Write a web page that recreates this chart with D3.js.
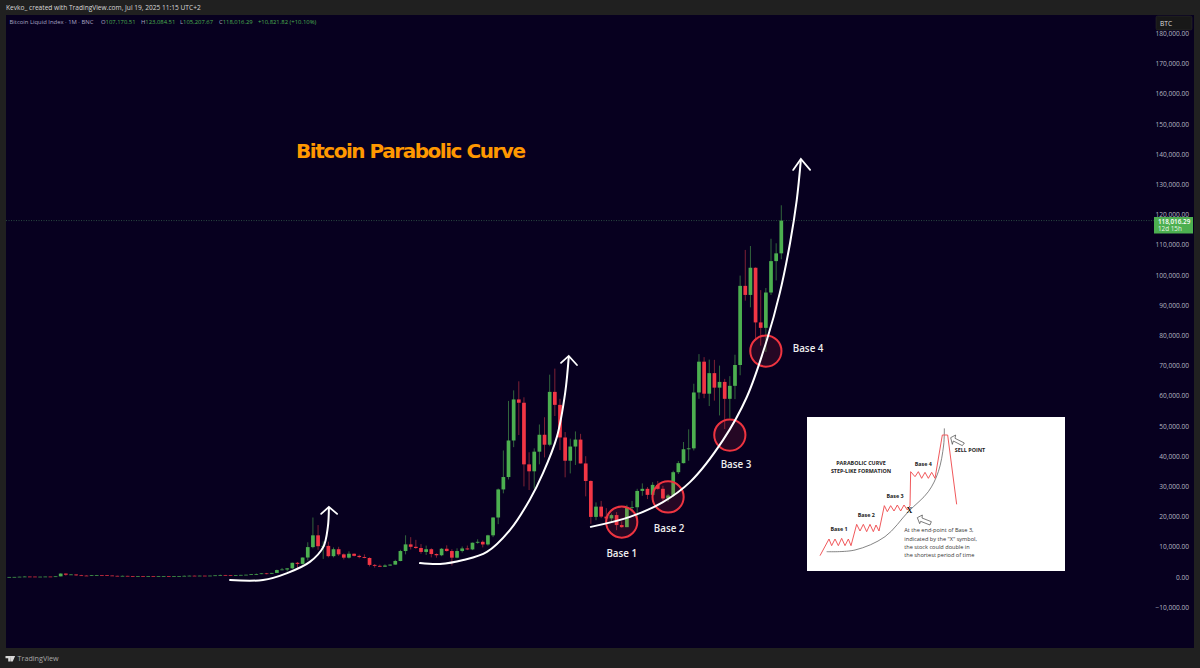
<!DOCTYPE html>
<html><head><meta charset="utf-8">
<script src="https://cdn.jsdelivr.net/npm/d3@7"></script>
<style>html,body{margin:0;padding:0;background:#202020;overflow:hidden}svg{display:block}</style>
</head><body><svg id="c" width="1200" height="668"></svg>
<script>
// Monthly candles, first = Jan 2013
const opens=[13,20,33,93,139,129,97,106,141,133,211,1129,
757,830,550,460,450,630,640,590,480,390,340,380,
320,220,250,240,240,230,260,280,230,240,320,380,
430,370,440,420,450,530,670,620,570,610,700,750,
960,970,1190,1080,1350,2300,2480,2860,4700,4340,6450,9900,
13800,10200,10300,6900,9200,7500,6400,7700,7000,6600,6300,4000,
3700,3400,3800,4100,5300,8600,10800,10000,9600,8300,9200,7600,
7200,9350,8600,6400,8600,9450,9130,11350,11650,10780,13800,19700,
29000,33100,45200,58800,57700,37300,35000,41500,47100,43800,61300,57000,
46200,38500,43200,45500,37600,31800,19900,23300,20000,19400,20500,17200,
16500,23100,23100,28500,29200,27200,30500,29200,26000,27000,34700,37700,
42300,42600,61100,71300,60700,67500,62700,64600,59000,63300,70200,96400,
93400,102400,84300,82500,94200,104600,107170.51];
const highs=[21,34,95,266,140,130,110,145,142,215,1242,1170,
1000,850,720,530,640,680,660,600,500,420,460,390,
320,260,300,260,250,270,310,280,250,250,500,470,
460,450,440,470,550,780,680,630,610,710,760,980,
1150,1210,1350,1350,2450,3000,3000,4750,4980,6470,11500,19700,
17200,11800,11700,9800,10000,7800,8500,7800,7400,7500,6500,4300,
4100,4200,4200,5700,9000,13800,13200,12300,10900,10400,9500,7800,
9600,10500,9200,9500,10100,10400,11400,12500,12100,14000,19800,29300,
41900,58300,61800,64800,59500,41300,42600,50500,52900,67000,69000,59000,
48000,45800,48200,47400,40000,32000,24700,25200,22800,21000,21500,18400,
23900,25200,29200,31000,29800,31400,31800,30200,27500,35200,38400,44700,
48900,64000,73800,72800,72000,71900,70000,65600,66500,73600,99800,108300,
109600,102500,95000,95700,112000,110500,123084.51];
const lows=[13,19,33,50,80,65,65,100,120,100,205,410,
700,400,440,340,420,540,560,450,360,275,320,300,
170,210,240,210,230,220,255,210,225,235,310,350,
350,360,400,415,440,500,600,520,560,600,690,740,
750,950,900,1060,1320,2200,1800,2700,2950,4100,5500,9500,
9000,6000,6500,6500,7000,5800,6100,6800,6200,6200,3500,3100,
3350,3350,3700,4050,5200,7500,9100,9300,7700,7300,6500,6400,
6900,8400,3800,6200,8100,8900,8900,11000,9800,10400,13200,17500,
27700,32300,43000,47000,30000,28800,29300,37300,39600,43300,53300,42000,
33000,34300,37100,37600,26700,17600,18800,19500,18100,18100,15500,16300,
16500,21400,19500,26900,25800,24800,28900,25200,24900,26500,34100,37600,
38500,41900,59000,59200,56600,58400,53500,49000,52500,58900,66800,91500,
89300,78200,76600,74500,93400,98200,105207.67];
const closes=[20,33,93,139,129,97,106,141,133,211,1129,757,
830,550,460,450,630,640,590,480,390,340,380,320,
220,250,240,240,230,260,280,230,240,320,380,430,
370,440,420,450,530,670,620,570,610,700,750,960,
970,1190,1080,1350,2300,2480,2860,4700,4340,6450,9900,13800,
10200,10300,6900,9200,7500,6400,7700,7000,6600,6300,4000,3700,
3400,3800,4100,5300,8600,10800,10000,9600,8300,9200,7600,7200,
9350,8600,6400,8600,9450,9130,11350,11650,10780,13800,19700,29000,
33100,45200,58800,57700,37300,35000,41500,47100,43800,61300,57000,46200,
38500,43200,45500,37600,31800,19900,23300,20000,19400,20500,17200,16500,
23100,23100,28500,29200,27200,30500,29200,26000,27000,34700,37700,42300,
42600,61100,71300,60700,67500,62700,64600,59000,63300,70200,96400,93400,
102400,84300,82500,94200,104600,107170,118016.29];

const priceTicks=[-10000,0,10000,20000,30000,40000,50000,60000,70000,80000,90000,100000,110000,120000,130000,140000,150000,160000,170000,180000];
const timeTickMonths=[0,6,12,18,24,30,36,42,48,54,60,66,72,78,84,90,96,102,108,114,120,126,132,138,144,150,156,162,168,174,180,186,192,198,204,210,216,222];
const timeTickLabels=["2013","Jul","2014","Jul","2015","Jul","2016","Jul","2017","Jul","2018","Jul","2019","Jul","2020","Jul","2021","Jul","2022","Jul","2023","Jul","2024","Jul","2025","Jul","2026","Jul","2027","Jul","2028","Jul","2029","Jul","2030","Jul","2031","Jul"];

// Hand-drawn annotations in chart units: [month index, price]
const curve1=[[42.9,-1000],[49.3,-1000],[54,1300],[58.4,5000],[61,9900],[61.9,16600],[62.1,22800]];
const head1=[[60.6,20900],[62.1,23200],[63.7,20900]];
const curve2=[[79.8,4600],[83.7,4300],[88.2,5600],[92.8,8300],[97.3,15600],[101.1,25500],[103.7,34400],[106.4,46400],[108,60900],[108.7,72800]];
const head2=[[107.2,70900],[108.7,73200],[110.3,70200]];
const curve3=[[113,16600],[120.6,19900],[127,24800],[132.3,31500],[138.7,45400],[143.3,59600],[147.2,78500],[149.7,94000],[151.7,110600],[153,124800],[153.8,138100]];
const head3=[[152.3,134800],[153.8,138400],[155.6,134800]];
const baseCircles=[[119,18200],[128,26500],[140,47000],[147,74800]];
const baseLabels=[["Base 1",119,6500],["Base 2",128.2,14800],["Base 3",141.2,36000],["Base 4",155.2,74500]];

// Inset sketch, in its own 0..786 x 0..474 units
const insetPrice=[[45,422],[72,372],[80,392],[90,372],[100,392],[110,370],[120,392],[130,372],[138,392],[155,328],[165,348],[175,328],[185,350],[195,328],[205,350],[213,330],[222,348],[238,272],[247,290],[257,272],[267,288],[277,270],[287,288],[297,270],[307,285],[315,272],[317,170],[330,185],[340,170],[350,190],[360,172],[370,190],[380,172],[390,190],[412,60],[428,60],[455,268]];
const insetCurve=[[65,410],[150,405],[240,365],[310,290],[370,230],[400,170],[416,90],[418,40]];
const insetArrow1=[[437,68],[452,60],[450,70],[478,84],[472,92],[445,78],[442,88]];
const insetArrow2=[[337,308],[352,300],[351,309],[379,320],[375,330],[347,319],[344,326]];
const insetTexts=[["PARABOLIC CURVE",168,150,1],["STEP-LIKE FORMATION",168,175,1],["Base 1",102,349,1],["Base 2",184,306,1],["Base 3",270,250,1],["Base 4",355,152,1],["SELL POINT",495,110,1]];
const insetNote=["At the end-point of Base 3,","indicated by the \"X\" symbol,","the stock could double in","the shortest period of time"];

const svg=d3.select("#c");
const FONT="'Open Sans','Noto Sans',sans-serif";
const UP="#4caf50",DOWN="#f23645",BG="#07001f";
const x=d3.scaleLinear().domain([0,222]).range([9.24,1151.9]);
const y=d3.scaleLinear().domain([0,180000]).range([577,33.4]);

svg.append("rect").attr("width",1200).attr("height",668).attr("fill","#202020");
svg.append("rect").attr("x",6).attr("y",15).attr("width",1188).attr("height",633).attr("fill",BG);
const defs=svg.append("defs");
defs.append("clipPath").attr("id","axisclip").append("rect").attr("x",6).attr("y",15).attr("width",1148).attr("height",633);

svg.append("text").attr("x",6).attr("y",10.3).attr("fill","#d8d8d8").attr("font-family",FONT).attr("font-size",6.6).text("Kevko_ created with TradingView.com, Jul 19, 2025 11:15 UTC+2");

const leg=svg.append("g").attr("font-family",FONT).attr("font-size",5.9);
leg.append("text").attr("x",9.5).attr("y",24).attr("fill","#a9a6c4").text("Bitcoin Liquid Index · 1M · BNC");
[["O",101,"107,170.51"],["H",141,"123,084.51"],["L",180,"105,207.67"],["C",219,"118,016.29"]].forEach(d=>{
  const t=leg.append("text").attr("x",d[1]).attr("y",24).attr("fill","#a9a6c4").text(d[0]);
  t.append("tspan").attr("fill","#4caf50").text(d[2]);
});
leg.append("text").attr("x",258).attr("y",24).attr("fill","#4caf50").text("+10,821.82 (+10.10%)");

// Axes
const yAxis=d3.axisRight(y).tickValues(priceTicks).tickSize(0).tickPadding(0).tickFormat(d3.format(",.2f"));
const ya=svg.append("g").attr("transform","translate(1189,0)").call(yAxis);
ya.select(".domain").remove();
ya.selectAll("text").attr("text-anchor","end").attr("fill","#b4b6c2").attr("font-family",FONT).attr("font-size",6.6).text(function(d){return d3.format(",.2f")(d).replace("-","−");});

const xAxis=d3.axisBottom(x).tickValues(timeTickMonths).tickSize(0).tickPadding(0).tickFormat((d,i)=>timeTickLabels[i]);
const xa=svg.append("g").attr("transform","translate(0,637)").attr("clip-path","url(#axisclip)").call(xAxis);
xa.select(".domain").remove();
xa.selectAll("text").attr("fill","#c2c3cc").attr("font-family",FONT).attr("font-size",6.6);

// Last price line
const lastClose=closes[closes.length-1];
svg.append("line").attr("x1",6).attr("x2",1154).attr("y1",y(lastClose)).attr("y2",y(lastClose)).attr("stroke","#3f7a55").attr("stroke-width",.6).attr("stroke-dasharray","1 1.5");

// Candles
const months=d3.range(opens.length);
const cw=3.7;
const g=svg.append("g");
g.selectAll(".wick").data(months).join("line").attr("class","wick")
 .attr("x1",i=>x(i)).attr("x2",i=>x(i)).attr("y1",i=>y(highs[i])).attr("y2",i=>y(lows[i]))
 .attr("stroke",i=>closes[i]>=opens[i]?"#37703f":"#8c2438").attr("stroke-width",.9);
g.selectAll(".body").data(months).join("rect").attr("class","body")
 .attr("x",i=>x(i)-cw/2).attr("width",cw)
 .attr("y",i=>y(Math.max(opens[i],closes[i])))
 .attr("height",i=>Math.max(.7,Math.abs(y(opens[i])-y(closes[i]))))
 .attr("fill",i=>closes[i]>=opens[i]?UP:DOWN);

// Circles
svg.append("g").selectAll("circle").data(baseCircles).join("circle")
 .attr("cx",d=>x(d[0])).attr("cy",d=>y(d[1])).attr("r",15.6)
 .attr("fill","rgba(242,54,69,0.13)").attr("stroke","#ee3440").attr("stroke-width",2);

// Curves
const smooth=d3.line().x(d=>x(d[0])).y(d=>y(d[1])).curve(d3.curveCatmullRom.alpha(.5));
const straight=d3.line().x(d=>x(d[0])).y(d=>y(d[1]));
[[curve1,head1],[curve2,head2],[curve3,head3]].forEach(([c,h])=>{
  svg.append("path").attr("d",smooth(c)).attr("fill","none").attr("stroke","#fff").attr("stroke-width",2).attr("stroke-linecap","round");
  svg.append("path").attr("d",straight(h)).attr("fill","none").attr("stroke","#fff").attr("stroke-width",1.8).attr("stroke-linecap","round");
});

// Labels
svg.append("g").selectAll("text").data(baseLabels).join("text")
 .attr("x",d=>x(d[1])).attr("y",d=>y(d[2])).attr("text-anchor","middle").attr("fill","#eee")
 .attr("font-family",FONT).attr("font-weight",600).attr("font-size",9.8).text(d=>d[0]);
svg.append("text").attr("x",296).attr("y",158).attr("fill","#ff9800").attr("font-family","'DejaVu Sans',sans-serif").attr("font-weight",600).attr("font-size",20).attr("textLength",230).text("Bitcoin Parabolic Curve");

// Inset
const ix=d3.scaleLinear().domain([0,786]).range([805,1067]);
const iy=d3.scaleLinear().domain([0,474]).range([415,573]);
svg.append("rect").attr("x",ix(6)).attr("y",iy(6)).attr("width",ix(780)-ix(6)).attr("height",iy(468)-iy(6)).attr("fill","#fff");
const iline=d3.line().x(d=>ix(d[0])).y(d=>iy(d[1]));
svg.append("path").attr("d",d3.line().x(d=>ix(d[0])).y(d=>iy(d[1])).curve(d3.curveCatmullRom)(insetCurve)).attr("fill","none").attr("stroke","#666").attr("stroke-width",.8);
svg.append("path").attr("d",iline(insetPrice)).attr("fill","none").attr("stroke","#ef4f52").attr("stroke-width",.95);
[insetArrow1,insetArrow2].forEach(a=>svg.append("path").attr("d",iline(a)+"Z").attr("fill","#fff").attr("stroke","#444").attr("stroke-width",.7));
svg.append("text").attr("x",ix(313)).attr("y",iy(293)).attr("text-anchor","middle").attr("font-family","'Liberation Serif',serif").attr("font-weight",700).attr("font-size",8).attr("fill","#111").text("X");
svg.append("g").selectAll("text").data(insetTexts).join("text").attr("x",d=>ix(d[1])).attr("y",d=>iy(d[2])).attr("text-anchor","middle")
 .attr("font-family",FONT).attr("font-weight",700).attr("font-size",5.4).attr("fill","#222").text(d=>d[0]);
svg.append("g").selectAll("text").data(insetNote).join("text").attr("x",ix(298)).attr("y",(d,i)=>iy(352+i*24.5))
 .attr("font-family",FONT).attr("font-size",5.6).attr("fill","#333").text(d=>d);

// BTC box
svg.append("rect").attr("x",1156).attr("y",16).attr("width",36).attr("height",14).attr("rx",1.5).attr("fill","#181818").attr("stroke","#2c2c2c").attr("stroke-width",.5);
svg.append("text").attr("x",1160).attr("y",26).attr("fill","#ddd").attr("font-family",FONT).attr("font-size",6.6).text("BTC");

// Price tag
svg.append("rect").attr("x",1154).attr("y",217).attr("width",39).attr("height",16.5).attr("fill","#4caf50");
svg.append("text").attr("x",1158).attr("y",223.7).attr("fill","#fff").attr("font-family",FONT).attr("font-weight",600).attr("font-size",6.3).text(d3.format(",.2f")(lastClose));
svg.append("text").attr("x",1158).attr("y",231.4).attr("fill","#e6f5e6").attr("font-family",FONT).attr("font-size",6.3).text("12d 15h");

// Footer
svg.append("path").attr("d","M5.5 656h5v5.4h-2.3v-3.2h-2.7zM10.5 656h4.6l-2.4 5.4h-1.9z").attr("fill","#d8d8d8");
svg.append("text").attr("x",17.5).attr("y",661.2).attr("fill","#a8a8a8").attr("font-family",FONT).attr("font-size",7.2).text("TradingView");
</script></body></html>
